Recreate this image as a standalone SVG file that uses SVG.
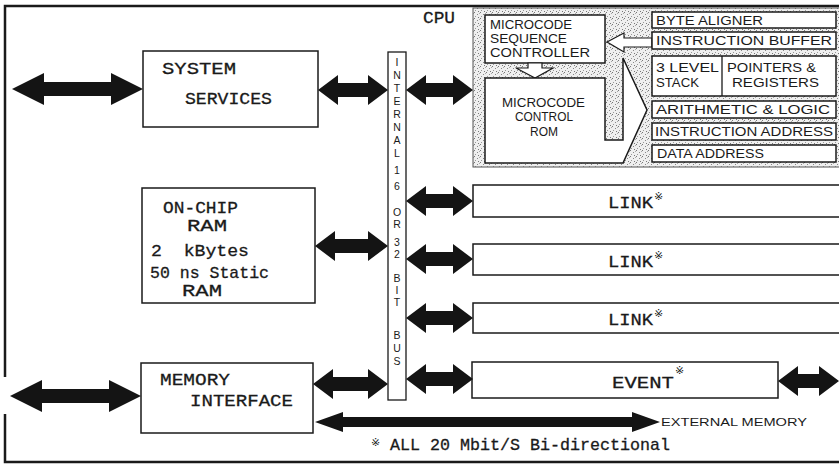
<svg xmlns="http://www.w3.org/2000/svg" width="839" height="465" viewBox="0 0 839 465">
<style>
.frame{fill:none;stroke:#1a1a1a;stroke-width:2.5}
.box{fill:#fff;stroke:#1a1a1a;stroke-width:1.5}
.thin{fill:#fff;stroke:#1a1a1a;stroke-width:1.2}
.busbox{fill:#fff;stroke:#1a1a1a;stroke-width:1.3}
.lbl{font-family:"Liberation Mono","DejaVu Sans Mono",monospace;font-size:17px;fill:#1a1a1a;stroke:#1a1a1a;stroke-width:0.3}
.cpu{font-family:"Liberation Sans","DejaVu Sans",sans-serif;font-size:13px;fill:#1a1a1a}
.bus{font-family:"Liberation Sans","DejaVu Sans",sans-serif;font-size:10.5px;fill:#1a1a1a;text-anchor:middle}
.sup{font-family:"DejaVu Sans","Noto Sans CJK SC",sans-serif;font-size:11px;fill:#1a1a1a}
.ext{font-family:"Liberation Sans","DejaVu Sans",sans-serif;font-size:11px;fill:#1a1a1a}
.arr{fill:#141414}
.shade{fill:url(#stip);stroke:#555;stroke-width:1}
</style>
<defs>
<pattern id="stip" width="6" height="6" patternUnits="userSpaceOnUse">
<rect width="6" height="6" fill="#efefef"/>
<rect x="0" y="0" width="1" height="1" fill="#777"/>
<rect x="3" y="2" width="1" height="1" fill="#888"/>
<rect x="1" y="4" width="1" height="1" fill="#999"/>
<rect x="4" y="5" width="1" height="1" fill="#777"/>
<rect x="5" y="1" width="1" height="1" fill="#aaa"/>
</pattern>
</defs>
<rect width="839" height="465" fill="#fff"/>
<path class="frame" d="M845,6 H5 V377 M5,414 V462 H845"/>

<g id="system-services">
<rect class="box" x="143" y="51" width="175" height="76"/>
<text class="lbl" x="162" y="74" textLength="74" lengthAdjust="spacingAndGlyphs">SYSTEM</text>
<text class="lbl" x="185" y="104" textLength="87" lengthAdjust="spacingAndGlyphs">SERVICES</text>
</g>

<g id="on-chip-ram">
<rect class="box" x="142" y="188" width="173" height="115"/>
<text class="lbl" x="163" y="213" textLength="75" lengthAdjust="spacingAndGlyphs">ON-CHIP</text>
<text class="lbl" x="187" y="231" textLength="40" lengthAdjust="spacingAndGlyphs">RAM</text>
<text class="lbl" x="151" y="256" xml:space="preserve" style="white-space:pre" textLength="98" lengthAdjust="spacingAndGlyphs">2  kBytes</text>
<text class="lbl" x="150" y="278" textLength="119" lengthAdjust="spacingAndGlyphs">50 ns Static</text>
<text class="lbl" x="182" y="296" textLength="40" lengthAdjust="spacingAndGlyphs">RAM</text>
</g>

<g id="memory-interface">
<rect class="box" x="141" y="363" width="172" height="70"/>
<text class="lbl" x="160" y="385" textLength="70" lengthAdjust="spacingAndGlyphs">MEMORY</text>
<text class="lbl" x="190" y="406" textLength="103" lengthAdjust="spacingAndGlyphs">INTERFACE</text>
</g>

<g id="internal-bus">
<rect class="busbox" x="388" y="52" width="18" height="348"/>
<text class="bus" x="397" y="66">I</text>
<text class="bus" x="397" y="79">N</text>
<text class="bus" x="397" y="92">T</text>
<text class="bus" x="397" y="105">E</text>
<text class="bus" x="397" y="118">R</text>
<text class="bus" x="397" y="131">N</text>
<text class="bus" x="397" y="144">A</text>
<text class="bus" x="397" y="157">L</text>
<text class="bus" x="397" y="174">1</text>
<text class="bus" x="397" y="190">6</text>
<text class="bus" x="397" y="216">O</text>
<text class="bus" x="397" y="228">R</text>
<text class="bus" x="397" y="246">3</text>
<text class="bus" x="397" y="258">2</text>
<text class="bus" x="397" y="282">B</text>
<text class="bus" x="397" y="294">I</text>
<text class="bus" x="397" y="306">T</text>
<text class="bus" x="397" y="339">B</text>
<text class="bus" x="397" y="352">U</text>
<text class="bus" x="397" y="365">S</text>
</g>

<g id="cpu">
<text class="lbl" x="423" y="23" textLength="32" lengthAdjust="spacingAndGlyphs">CPU</text>
<rect class="shade" x="473" y="8" width="370" height="159"/>
<g id="microcode-sequence-controller">
<rect class="box" x="485" y="15" width="120" height="48"/>
<text class="cpu" x="490" y="29" textLength="82" lengthAdjust="spacingAndGlyphs">MICROCODE</text>
<text class="cpu" x="490" y="43" textLength="77" lengthAdjust="spacingAndGlyphs">SEQUENCE</text>
<text class="cpu" x="490" y="57" textLength="100" lengthAdjust="spacingAndGlyphs">CONTROLLER</text>
</g>
<polygon class="thin" points="528,63 542,63 542,68 553,68 535,78 516,68 528,68"/>
<g id="microcode-control-rom">
<polygon class="box" points="485,78 605,78 605,140 623,140 623,58 647,110 623,163 485,163"/>
<text class="cpu" x="502" y="107" textLength="83" lengthAdjust="spacingAndGlyphs">MICROCODE</text>
<text class="cpu" x="515" y="121" textLength="58" lengthAdjust="spacingAndGlyphs">CONTROL</text>
<text class="cpu" x="530" y="136" textLength="28" lengthAdjust="spacingAndGlyphs">ROM</text>
</g>
<polygon class="thin" points="607,42 624,33 624,38 652,38 652,47 624,47 624,52"/>
<g id="byte-aligner">
<rect class="box" x="652" y="12" width="184" height="16"/>
<text class="cpu" x="656" y="25" textLength="107" lengthAdjust="spacingAndGlyphs">BYTE ALIGNER</text>
</g>
<g id="instruction-buffer">
<rect class="box" x="652" y="32" width="184" height="17"/>
<text class="cpu" x="656" y="45" textLength="176" lengthAdjust="spacingAndGlyphs">INSTRUCTION BUFFER</text>
</g>
<g id="stack-registers">
<rect class="box" x="652" y="56" width="184" height="40"/>
<line x1="722" y1="56" x2="722" y2="96" stroke="#1a1a1a" stroke-width="1.3"/>
<text class="cpu" x="656" y="72" textLength="63" lengthAdjust="spacingAndGlyphs">3 LEVEL</text>
<text class="cpu" x="656" y="87" textLength="43" lengthAdjust="spacingAndGlyphs">STACK</text>
<text class="cpu" x="727" y="72" textLength="89" lengthAdjust="spacingAndGlyphs">POINTERS &amp;</text>
<text class="cpu" x="732" y="87" textLength="87" lengthAdjust="spacingAndGlyphs">REGISTERS</text>
</g>
<g id="arithmetic-logic">
<rect class="box" x="652" y="101" width="184" height="17"/>
<text class="cpu" x="656" y="114" textLength="174" lengthAdjust="spacingAndGlyphs">ARITHMETIC &amp; LOGIC</text>
</g>
<g id="instruction-address">
<rect class="box" x="652" y="123" width="184" height="17"/>
<text class="cpu" x="655" y="136" textLength="178" lengthAdjust="spacingAndGlyphs">INSTRUCTION ADDRESS</text>
</g>
<g id="data-address">
<rect class="box" x="652" y="145" width="184" height="17"/>
<text class="cpu" x="657" y="158" textLength="107" lengthAdjust="spacingAndGlyphs">DATA ADDRESS</text>
</g>
</g>

<g id="link-1">
<rect class="box" x="473" y="185" width="372" height="32"/>
<text class="lbl" x="608" y="208" textLength="45" lengthAdjust="spacingAndGlyphs">LINK</text>
<text class="sup" x="654" y="200">※</text>
</g>
<g id="link-2">
<rect class="box" x="473" y="244" width="372" height="31"/>
<text class="lbl" x="608" y="267" textLength="45" lengthAdjust="spacingAndGlyphs">LINK</text>
<text class="sup" x="654" y="259">※</text>
</g>
<g id="link-3">
<rect class="box" x="473" y="303" width="372" height="30"/>
<text class="lbl" x="608" y="325" textLength="45" lengthAdjust="spacingAndGlyphs">LINK</text>
<text class="sup" x="654" y="317">※</text>
</g>
<g id="event">
<rect class="box" x="472" y="362" width="306" height="36"/>
<text class="lbl" x="612" y="388" textLength="62" lengthAdjust="spacingAndGlyphs">EVENT</text>
<text class="sup" x="675" y="374">※</text>
</g>

<g id="connectors">
<polygon class="arr" points="12,89 44,73 44,82 111,82 111,73 143,89 111,105 111,96 44,96 44,105"/>
<polygon class="arr" points="318,90 338,75 338,83 368,83 368,75 388,90 368,105 368,97 338,97 338,105"/>
<polygon class="arr" points="406,90 426,75 426,83 453,83 453,75 473,90 453,105 453,97 426,97 426,105"/>
<polygon class="arr" points="315,246 335,231 335,239 368,239 368,231 388,246 368,261 368,253 335,253 335,261"/>
<polygon class="arr" points="406,201 426,186 426,194 453,194 453,186 473,201 453,216 453,208 426,208 426,216"/>
<polygon class="arr" points="406,259 426,244 426,252 453,252 453,244 473,259 453,274 453,266 426,266 426,274"/>
<polygon class="arr" points="406,318 426,303 426,311 453,311 453,303 473,318 453,333 453,325 426,325 426,333"/>
<polygon class="arr" points="406,379 426,364 426,372 453,372 453,364 473,379 453,394 453,386 426,386 426,394"/>
<polygon class="arr" points="313,384 333,369 333,377 368,377 368,369 388,384 368,399 368,391 333,391 333,399"/>
<polygon class="arr" points="10,396 42,380 42,389 109,389 109,380 141,396 109,412 109,403 42,403 42,412"/>
<polygon class="arr" points="315,422 343,412 343,417 632,417 632,412 660,422 632,432 632,427 343,427 343,432"/>
<polygon class="arr" points="778,381 798,366 798,374 819,374 819,366 839,381 819,396 819,388 798,388 798,396"/>
</g>

<text class="ext" x="661" y="426" textLength="146" lengthAdjust="spacingAndGlyphs">EXTERNAL MEMORY</text>
<text class="sup" x="371" y="446">※</text>
<text class="lbl" x="390" y="450" textLength="280" lengthAdjust="spacingAndGlyphs">ALL 20 Mbit/S Bi-directional</text>
</svg>
